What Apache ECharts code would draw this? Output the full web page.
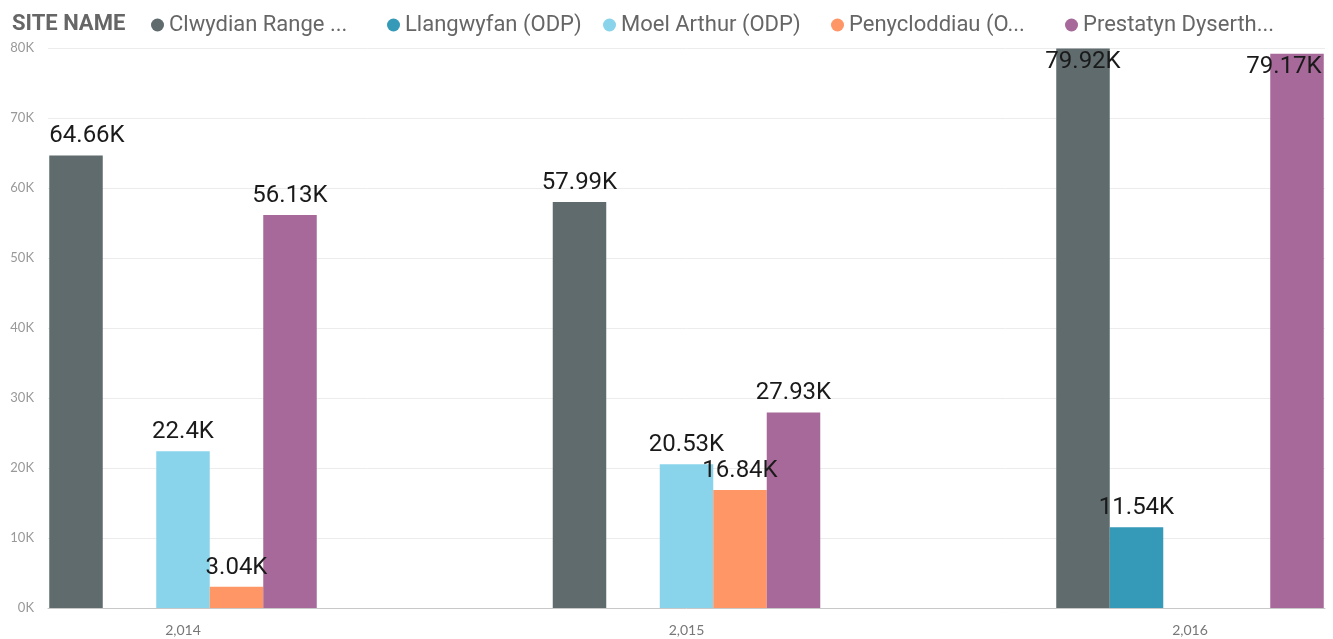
<!DOCTYPE html>
<html>
<head>
<meta charset="utf-8">
<script src="https://cdn.jsdelivr.net/npm/echarts@6/dist/echarts.min.js"></script>
<style>
  html, body { margin: 0; padding: 0; background: #fff; }
  #main { width: 1333px; height: 639px; }
</style>
</head>
<body>
<div id="main"></div>
<script>
// 年份（横轴）
const years = ['2,014', '2,015', '2,016'];
// 各站点数值
const clwydian = [64660, 57990, 79920];
const llangwyfan = [null, null, 11540];
const moelArthur = [22400, 20530, null];
const penycloddiau = [3040, 16840, null];
const prestatyn = [56130, 27930, 79170];
const siteNames = ['Clwydian Range ...', 'Llangwyfan (ODP)', 'Moel Arthur (ODP)', 'Penycloddiau (O...', 'Prestatyn Dyserth...'];
const colors = ['#5F6B6D', '#3599B8', '#8AD4EB', '#FE9666', '#A66999'];
const yTicks = [0, 10000, 20000, 30000, 40000, 50000, 60000, 70000, 80000];

const fmtK = v => {
    let s = (v / 1000).toFixed(2).replace(/\.?0+$/, '');
    return s + 'K';
};

const labelStyle = {
    show: true,
    position: 'top',
    distance: 7,
    fontFamily: 'Roboto',
    fontSize: 24,
    color: '#1a1a1a',
    formatter: p => fmtK(p.value)
};

// 把数组转成带个别标签调整的数据
const toData = (arr, tweaks) => arr.map((v, i) => {
    if (v == null) return null;
    let item = {value: v};
    if (tweaks && tweaks[i]) item.label = tweaks[i];
    return item;
});

const seriesData = [
    toData(clwydian, {0: {offset: [11, 0]}, 2: {position: 'insideTop', distance: 1}}),
    toData(llangwyfan),
    toData(moelArthur),
    toData(penycloddiau),
    toData(prestatyn, {2: {position: 'insideTop', distance: 1, offset: [-13, 0]}})
];

const legendLefts = [146, 382, 598, 826, 1060];

const initChart = (dom) => {
    let myChart = echarts.init(document.getElementById(dom));
    let option = {
        animation: false,
        title: {
            text: 'SITE NAME',
            left: 7,
            top: 8,
            textStyle: {fontFamily: 'Roboto', fontSize: 22, fontWeight: 'bold', color: '#666'}
        },
        legend: siteNames.map((n, i) => ({
            data: [n],
            left: legendLefts[i],
            top: 9,
            icon: 'circle',
            itemWidth: 13,
            itemHeight: 13,
            textStyle: {fontFamily: 'Roboto', fontSize: 22, color: '#666'}
        })),
        grid: [
            // 柱子所在的网格：两端类目落在分组中心上
            {left: 183, right: 143, top: 48, bottom: 31},
            // 只用来画纵轴刻度和网格线
            {left: 48, right: 8, top: 48, bottom: 31}
        ],
        xAxis: [
            {
                type: 'category', gridIndex: 0, data: years, boundaryGap: false,
                axisLine: {show: false}, axisTick: {show: false},
                axisLabel: {fontFamily: 'Lato', fontSize: 14, color: '#777', margin: 15}
            },
            {
                type: 'category', gridIndex: 1, data: [''],
                axisLine: {lineStyle: {color: '#c8c8c8'}}, axisTick: {show: false},
                axisLabel: {show: false}
            }
        ],
        yAxis: [
            {type: 'value', gridIndex: 0, min: 0, max: 80000, interval: 10000, show: false, splitLine: {show: false}},
            {
                type: 'value', gridIndex: 1, min: yTicks[0], max: yTicks[yTicks.length - 1], interval: 10000,
                axisLabel: {fontFamily: 'Lato', fontSize: 13, color: '#999', margin: 14, formatter: v => (v / 1000) + 'K'},
                splitLine: {lineStyle: {color: '#ececec', width: 1}},
                axisLine: {show: false}, axisTick: {show: false}
            }
        ],
        series: siteNames.map((n, i) => ({
            name: n,
            type: 'bar',
            xAxisIndex: 0,
            yAxisIndex: 0,
            clip: false,
            barWidth: 53.5,
            barGap: '0%',
            itemStyle: {color: colors[i]},
            label: labelStyle,
            data: seriesData[i]
        }))
    };
    myChart.setOption(option);
    window.addEventListener('resize', () => {
        myChart.resize();
    });
};

initChart('main');
</script>
</body>
</html>
